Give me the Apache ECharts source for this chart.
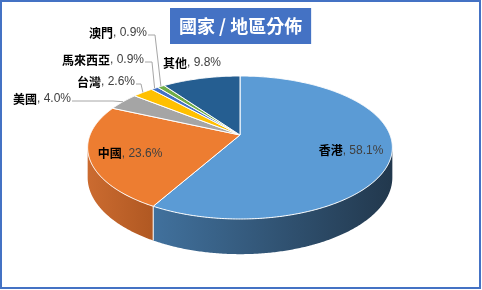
<!DOCTYPE html>
<html><head><meta charset="utf-8">
<script src="https://cdn.jsdelivr.net/npm/echarts@6/dist/echarts.min.js"></script>
<style>html,body{margin:0;padding:0;background:#fff}#c{width:482px;height:290px}</style>
</head><body><div id="c"></div>
<script>
// ---- data ----
const categories = ['香港', '中國', '美國', '台灣', '馬來西亞', '澳門', '其他'];
const shares = [58.1, 23.6, 4.0, 2.6, 0.9, 0.9, 9.8];
const titleText = '國家 / 地區分佈';

// ---- style / layout ----
const topColors = ['#5b9bd5', '#ed7d31', '#a5a5a5', '#ffc000', '#4472c4', '#70ad47', '#255e91'];
const sideColors = [['#41719d', '#22384d'], ['#cb6b30', '#b05822'], ['#8a8a8a', '#6e6e6e'], ['#d4a000', '#b08600'], ['#375f9f', '#2a4a7d'], ['#5c8f3a', '#48702d'], ['#1f4e79', '#173a5a']];
const CX = 240, CY = 135, RX = 150, RY = 69.3, K = 0.175, DEPTH = 29;
// label layout: 'in' = inside at fraction of radius; otherwise [rightX, centerY, elbowX]
const labelLayout = ['in', 'in', [71, 99, 113], [135, 82, 141], [144, 60, 152], [147, 33, 155], ['left', 163, 63]];

const total = shares.reduce((a, b) => a + b, 0);
const starts = [];
let acc = 0;
shares.forEach(v => { starts.push(acc / total * Math.PI * 2); acc += v; });

function proj(theta, r, dz) {
  const u = r * Math.sin(theta), v = -r * Math.cos(theta);
  const s = 1 / (1 - K * v);
  return [CX + RX * u * s, CY + (RY * v + dz) * s];
}
function arc(a0, a1, r, dz) {
  const pts = [];
  const n = Math.max(2, Math.ceil((a1 - a0) / (Math.PI / 360)));
  for (let i = 0; i <= n; i++) pts.push(proj(a0 + (a1 - a0) * i / n, r, dz));
  return pts;
}
const SIL0 = Math.acos(-K), SIL1 = Math.PI * 2 - Math.acos(-K);

function richText(i) {
  return '{n|' + categories[i] + '}{v|, ' + shares[i].toFixed(1) + '%}';
}
const rich = {
  n: { fontSize: 12, fontWeight: 'bold', fill: '#000', fontFamily: '"Noto Sans CJK TC"' },
  v: { fontSize: 12, fill: '#404040', fontFamily: '"Liberation Sans","Noto Sans CJK TC"' }
};

function renderItem(params, api) {
  const i = params.dataIndex;
  const a0 = starts[i];
  const a1 = a0 + api.value(0) / total * Math.PI * 2;
  const children = [];
  // side wall (front-facing part)
  const s0 = Math.max(a0, SIL0), s1 = Math.min(a1, SIL1);
  if (s1 > s0) {
    const topArc = arc(s0, s1, 1, 0);
    const botArc = arc(s0, s1, 1, DEPTH).reverse();
    children.push({
      type: 'polygon', shape: { points: topArc.concat(botArc) },
      style: { fill: new echarts.graphic.LinearGradient(0, 0, 1, 0, [
        { offset: 0, color: sideColors[i][0] }, { offset: 1, color: sideColors[i][1] }]) }
    });
    if (a0 >= SIL0 && a0 <= SIL1) {
      const p = proj(a0, 1, 0), q = proj(a0, 1, DEPTH);
      children.push({ type: 'line', shape: { x1: p[0], y1: p[1], x2: q[0], y2: q[1] }, style: { stroke: '#fff', lineWidth: 1 } });
    }
  }
  // top face
  const pts = [[CX, CY]].concat(arc(a0, a1, 1, 0));
  children.push({ type: 'polygon', shape: { points: pts }, style: { fill: topColors[i], stroke: '#fff', lineWidth: 1, lineJoin: 'round' } });
  return { type: 'group', children: children };
}

function renderLabel(params, api) {
  const i = params.dataIndex;
  const a0 = starts[i];
  const a1 = a0 + api.value(0) / total * Math.PI * 2;
  const mid = (a0 + a1) / 2;
  const lay = labelLayout[i];
  const children = [];
  if (lay === 'in') {
    const p = proj(mid, 0.74, 0);
    children.push({ type: 'text', style: { text: richText(i), rich: rich, x: p[0], y: p[1] + 2, align: 'center', verticalAlign: 'middle' } });
  } else if (lay[0] === 'left') {
    children.push({ type: 'text', style: { text: richText(i), rich: rich, x: lay[1], y: lay[2], align: 'left', verticalAlign: 'middle' } });
  } else {
    const rim = proj(mid, 1, 0);
    children.push({ type: 'polyline', shape: { points: [[lay[0] + 1, lay[1] + 2], [lay[2], lay[1] + 2], rim] }, style: { stroke: '#a6a6a6', lineWidth: 1, fill: null } });
    children.push({ type: 'text', style: { text: richText(i), rich: rich, x: lay[0], y: lay[1], align: 'right', verticalAlign: 'middle' } });
  }
  return { type: 'group', children: children };
}

const chart = echarts.init(document.getElementById('c'), null, { renderer: 'canvas' });
const seriesData = categories.map((c, i) => ({ name: c, value: [shares[i]] }));
chart.setOption({
  animation: false,
  backgroundColor: '#fff',
  title: {
    text: titleText, left: 170, top: 8, padding: [7, 9, 7, 9],
    backgroundColor: '#4472c4',
    textStyle: { color: '#fff', fontSize: 18, fontWeight: 'bold', fontFamily: '"Noto Sans CJK TC"', lineHeight: 22 }
  },
  graphic: [{ type: 'rect', shape: { x: 1, y: 1, width: 479, height: 287 }, style: { fill: null, stroke: '#4472c4', lineWidth: 2 }, z: 100 }],
  series: [
    { type: 'custom', coordinateSystem: 'none', renderItem: renderItem, data: seriesData, z: 2 },
    { type: 'custom', coordinateSystem: 'none', renderItem: renderLabel, data: seriesData, z: 3 }
  ]
});
</script></body></html>
